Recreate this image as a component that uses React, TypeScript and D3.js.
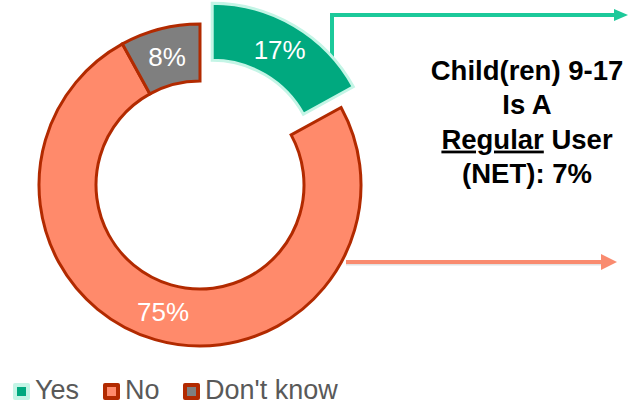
import React from "react";
import * as d3 from "d3";

const categories = ["Yes", "No", "Don't know"];
const values = [17, 75, 8];
const calloutLines = ["Child(ren) 9-17", "Is A", "Regular User", "(NET): 7%"];

const fills = ["#00A97F", "#FF8A6B", "#7F7F7F"];
const strokes = ["#C4F5E6", "#B22A00", "#B22A00"];

export default function App() {
  const W = 629, H = 405;
  const cx = 200, cy = 185;
  const outerR = 161, innerR = 104;
  const explode = 24;

  const pie = d3.pie<number>().sort(null).value((d) => d);
  const arcs = pie(values);
  const arc = d3.arc<d3.PieArcDatum<number>>().innerRadius(innerR).outerRadius(outerR);

  const offset = (a: d3.PieArcDatum<number>, i: number) => {
    if (i !== 0) return [0, 0];
    const mid = (a.startAngle + a.endAngle) / 2;
    return [explode * Math.sin(mid), -explode * Math.cos(mid)];
  };

  const teal = "#1CC99A";
  const salmon = "#F98B6F";

  return (
    <div style={{ position: "absolute", left: 0, top: 0 }}>
      <svg width={W} height={H} style={{ display: "block", fontFamily: "Liberation Sans, Arial, sans-serif" }}>
        <rect width={W} height={H} fill="#fff" />
        {/* teal arrow */}
        <path d={`M332,80 L332,15 L615,15`} fill="none" stroke={teal} strokeWidth={4} />
        <path d={`M614,9 L628,15 L614,21 Z`} fill={teal} />
        {/* salmon arrow */}
        <line x1={346} y1={264} x2={604} y2={264} stroke="#d0d0d0" strokeWidth={3} opacity={0.6} />
        <line x1={346} y1={262} x2={604} y2={262} stroke={salmon} strokeWidth={4} />
        <path d={`M601,254 L617,262 L601,270 Z`} fill={salmon} />

        <g transform={`translate(${cx},${cy})`}>
          {arcs.map((a, i) => {
            const [dx, dy] = offset(a, i);
            return (
              <path
                key={categories[i]}
                d={arc(a) || ""}
                transform={`translate(${dx},${dy})`}
                fill={fills[i]}
                stroke={strokes[i]}
                strokeWidth={3}
                strokeLinejoin="miter"
              />
            );
          })}
          {arcs.map((a, i) => {
            const [dx, dy] = offset(a, i);
            const [x, y] = arc.centroid(a);
            return (
              <text
                key={"l" + categories[i]}
                x={x + dx}
                y={y + dy + 9}
                textAnchor="middle"
                fill="#fff"
                fontSize={26}
              >
                {values[i]}%
              </text>
            );
          })}
        </g>

        {/* callout text */}
        <g fontWeight="bold" fontSize={27.5} fill="#000" textAnchor="middle">
          {calloutLines.map((t, i) => {
            const y = 80 + i * 34.3;
            if (t.startsWith("Regular")) {
              const rest = t.slice("Regular".length);
              return (
                <text key={t} x={527} y={y}>
                  <tspan textDecoration="underline">Regular</tspan>
                  <tspan>{rest}</tspan>
                </text>
              );
            }
            return (
              <text key={t} x={527} y={y}>
                {t}
              </text>
            );
          })}
        </g>

        {/* legend */}
        {categories.map((c, i) => {
          const lx = [13, 103, 183][i];
          return (
            <g key={"lg" + c}>
              <rect x={lx} y={383} width={17} height={17} rx={2} fill={strokes[i]} />
              <rect x={lx + 4} y={387} width={9} height={9} fill={fills[i]} />
              <text x={lx + 22} y={399} fontSize={27} fill="#595959">
                {c}
              </text>
            </g>
          );
        })}
      </svg>
    </div>
  );
}
